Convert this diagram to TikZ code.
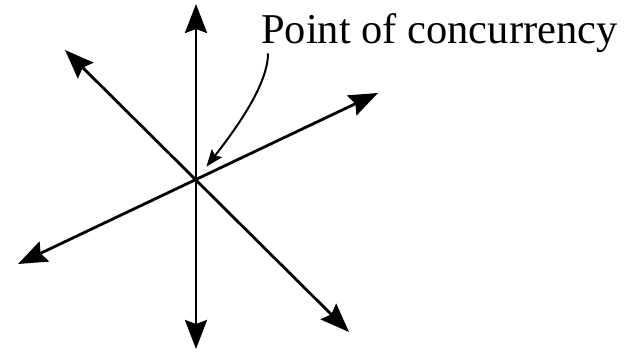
\documentclass[tikz,border=0pt]{standalone}
\usepackage{fontspec}
\setmainfont{Liberation Serif}
\usetikzlibrary{arrows.meta}
\begin{document}
\begin{tikzpicture}[x=1pt,y=-1pt,
    recta/.style={line width=2.8pt, {Stealth[length=29pt,width=22pt,inset=4pt]}-{Stealth[length=29pt,width=22pt,inset=4pt]}},
    flecha/.style={line width=2pt, -{Stealth[length=17pt,width=13pt,inset=3pt]}}]
    \useasboundingbox (0,0) rectangle (631,355);

    % Punto de concurrencia y extremos de las rectas
    \coordinate (O) at (196,180);
    \coordinate (arriba) at (196,4);
    \coordinate (abajo) at (196,349);
    \coordinate (izqsup) at (65,50);
    \coordinate (derinf) at (349,332);
    \coordinate (izqinf) at (18,264);
    \coordinate (dersup) at (378,93);

    % Dibujar las tres rectas concurrentes
    \draw[recta] (abajo) -- (arriba);
    \draw[recta] (izqsup) -- (derinf);
    \draw[recta] (izqinf) -- (dersup);

    % Etiqueta y flecha curva
    \node[anchor=base west, inner sep=0pt, font=\fontsize{42.5}{50}\selectfont] (etiqueta) at (261,44) {Point of concurrency};
    \draw[flecha, shorten >=17pt] ([xshift=7pt]etiqueta.south west) .. controls (268,85) and (235,130) .. (O);
\end{tikzpicture}
\end{document}
